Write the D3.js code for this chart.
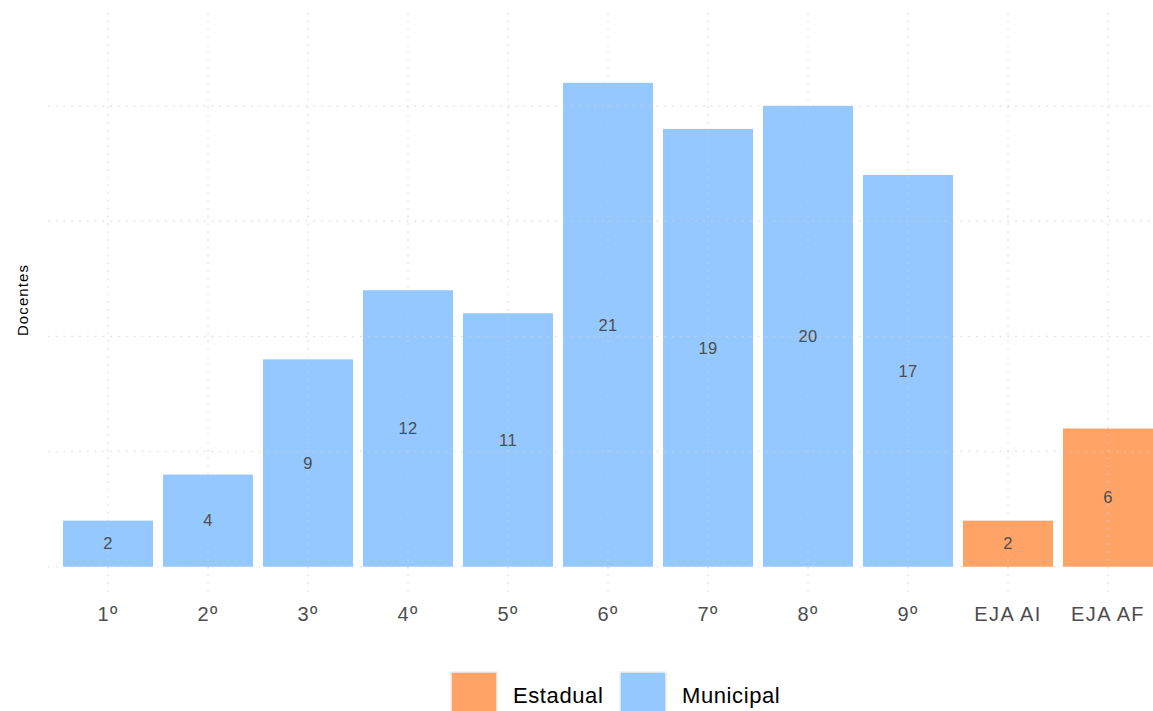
<!DOCTYPE html>
<html>
<head>
<meta charset="utf-8">
<script src="https://cdn.jsdelivr.net/npm/d3@7"></script>
<style>
  body { margin: 0; background: #fff; }
  svg text { font-family: "Liberation Sans", Arial, sans-serif; }
</style>
</head>
<body>
<div id="chart"></div>
<script>
var categories = ["1º", "2º", "3º", "4º", "5º", "6º", "7º", "8º", "9º", "EJA AI", "EJA AF"];
var values = [2, 4, 9, 12, 11, 21, 19, 20, 17, 2, 6];
var groups = ["Municipal", "Municipal", "Municipal", "Municipal", "Municipal", "Municipal",
              "Municipal", "Municipal", "Municipal", "Estadual", "Estadual"];
var legendKeys = ["Estadual", "Municipal"];
var yGrid = [0, 5, 10, 15, 20];

var width = 1153, height = 711;

var colors = d3.scaleOrdinal()
    .domain(legendKeys)
    .range(["#FFA366", "#94C8FF"]);

var x = d3.scaleBand()
    .domain(categories)
    .range([58, 1158])
    .paddingInner(0.1)
    .paddingOuter(0.05);

var y = d3.scaleLinear()
    .domain([-1.14, 24.03])
    .range([593, 13]);

var svg = d3.select("#chart")
    .append("svg")
    .attr("width", width)
    .attr("height", height);

// bars
svg.selectAll("rect.bar")
    .data(categories)
    .enter()
    .append("rect")
    .attr("class", "bar")
    .attr("x", function(d) { return x(d); })
    .attr("width", x.bandwidth())
    .attr("y", function(d, i) { return y(values[i]); })
    .attr("height", function(d, i) { return y(0) - y(values[i]); })
    .attr("fill", function(d, i) { return colors(groups[i]); });

// gridlines (drawn faintly over the bars)
var grid = svg.append("g").attr("class", "grid");
grid.selectAll("line.h")
    .data(yGrid)
    .enter()
    .append("line")
    .attr("x1", 48)
    .attr("x2", 1168)
    .attr("y1", function(d) { return y(d); })
    .attr("y2", function(d) { return y(d); });
grid.selectAll("line.v")
    .data(categories)
    .enter()
    .append("line")
    .attr("x1", function(d) { return x(d) + x.bandwidth() / 2; })
    .attr("x2", function(d) { return x(d) + x.bandwidth() / 2; })
    .attr("y1", y.range()[1])
    .attr("y2", y.range()[0]);
grid.selectAll("line")
    .attr("stroke", "#cfcfcf")
    .attr("stroke-opacity", 0.8)
    .attr("stroke-width", 1.2)
    .attr("stroke-dasharray", "1.5,6.3");

// value labels in the middle of each bar
svg.selectAll("text.val")
    .data(categories)
    .enter()
    .append("text")
    .attr("class", "val")
    .attr("x", function(d) { return x(d) + x.bandwidth() / 2; })
    .attr("y", function(d, i) { return y(values[i] / 2); })
    .attr("dy", "0.35em")
    .attr("text-anchor", "middle")
    .attr("font-size", 16.5)
    .attr("letter-spacing", 0.4)
    .attr("fill", "#4d4d4d")
    .text(function(d, i) { return values[i]; });

// x axis labels
var xAxis = svg.append("g")
    .attr("transform", "translate(0," + 593 + ")")
    .call(d3.axisBottom(x).tickSize(0).tickPadding(14));
xAxis.select(".domain").remove();
xAxis.selectAll("text")
    .attr("font-size", 20)
    .attr("letter-spacing", 1.4)
    .attr("fill", "#4d4d4d")
    .attr("font-family", "'Liberation Sans', Arial, sans-serif");

// y axis title
svg.append("text")
    .attr("transform", "translate(28,300) rotate(-90)")
    .attr("text-anchor", "middle")
    .attr("font-size", 15)
    .attr("letter-spacing", 1.1)
    .attr("fill", "#000")
    .text("Docentes");

// legend
var legend = svg.append("g");
var legendX = [451, 620];
legendKeys.forEach(function(k, i) {
    legend.append("rect")
        .attr("x", legendX[i])
        .attr("y", 672)
        .attr("width", 46)
        .attr("height", 46)
        .attr("fill", colors(k))
        .attr("stroke", "#f0f0f0")
        .attr("stroke-width", 1.5);
    legend.append("text")
        .attr("x", legendX[i] + 62)
        .attr("y", 703)
        .attr("font-size", 22)
        .attr("letter-spacing", 0.6)
        .attr("fill", "#000")
        .text(k);
});
</script>
</body>
</html>
